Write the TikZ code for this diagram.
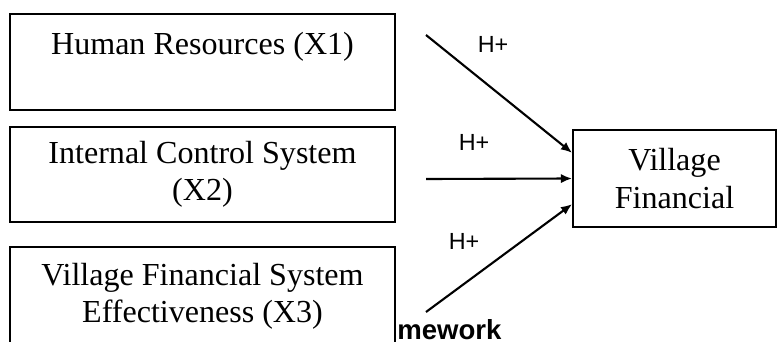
\documentclass[tikz,border=0pt]{standalone}
\usepackage{fontspec}
\setmainfont{Liberation Serif}
\newfontfamily\labelfont{Liberation Sans}
\usepackage{tikz}
\usetikzlibrary{arrows.meta, positioning, calc}

\begin{document}
\begin{tikzpicture}[x=0.025cm, y=-0.025cm,
  varbox/.style={draw, line width=1.2pt, fill=white, align=center, inner sep=0pt,
    font=\fontsize{22.8}{26.5}\selectfont},
  hyp/.style={font=\labelfont\fontsize{16.6}{18}\selectfont},
  link/.style={-{Latex[length=0.28cm, width=0.23cm]}, line width=1.5pt}]
  \useasboundingbox (0,0) rectangle (777,342);

  % caption text, partly hidden behind the third box
  \node[anchor=base west, inner sep=0pt, font=\labelfont\bfseries\fontsize{19.6}{21}\selectfont] (cap) at (397,339.5) {mework};

  % independent variables
  \node[varbox, minimum width=9.625cm, minimum height=2.4cm] (hr) at (202.5,62)
    {Human Resources (X1)\\ \mbox{}};
  \node[varbox, minimum width=9.625cm, minimum height=2.375cm] (ics) at (202.5,174.5)
    {Internal Control System\\ (X2)};
  \node[varbox, minimum width=9.625cm, minimum height=2.45cm] (vfs) at (202.5,296)
    {Village Financial System\\ Effectiveness (X3)};

  % dependent variable
  \node[varbox, minimum width=5.075cm, minimum height=2.425cm] (vf) at (674.5,178.5)
    {Village\\ Financial};

  % hypotheses
  \coordinate (s1) at (426,35);
  \coordinate (s2) at (426,179);
  \coordinate (s3) at (426,312);
  \draw[link] (s1) -- ([yshift=0.64cm]vf.west);
  \draw[link] (s2) -- (vf.west);
  \draw[link] (s3) -- ([yshift=-0.64cm]vf.west);
  \node[hyp] (h1) at (493,44.5) {H+};
  \node[hyp] (h2) at (474,142) {H+};
  \node[hyp] (h3) at (464,241.5) {H+};
\end{tikzpicture}
\end{document}
